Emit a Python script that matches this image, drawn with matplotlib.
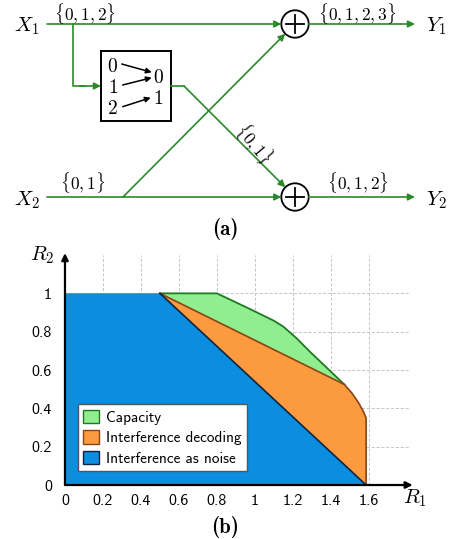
import matplotlib
matplotlib.use("Agg")
import matplotlib.pyplot as plt
from matplotlib.patches import Circle, Rectangle, Patch

plt.rcParams['mathtext.fontset'] = 'cm'

GREEN = '#2a8a2a'

# rate region boundaries (R1, R2)
noise_r1 = [0.0, 0.0, 0.5, 1.585]
noise_r2 = [0.0, 1.0, 1.0, 0.0]

decoding_r1 = [0.5, 1.47, 1.51, 1.545, 1.57, 1.585, 1.585]
decoding_r2 = [1.0, 0.525, 0.48, 0.43, 0.385, 0.35, 0.0]

capacity_r1 = [0.5, 0.8, 0.97, 1.1, 1.15, 1.22, 1.29, 1.47]
capacity_r2 = [1.0, 1.0, 0.92, 0.857, 0.826, 0.765, 0.695, 0.525]

xticks = [0, 0.2, 0.4, 0.6, 0.8, 1, 1.2, 1.4, 1.6]
yticks = [0, 0.2, 0.4, 0.6, 0.8, 1]

legend_labels = ['Capacity', 'Interference decoding', 'Interference as noise']
legend_colors = ['#90ee90', '#fb9a3f', '#0b8de0']
edge_colors = ['#1f7a1f', '#8b4513', '#10233f']

fig = plt.figure(figsize=(4.51, 5.39), dpi=100)

# ---- (a) channel diagram, drawn in pixel coordinates ----
axd = fig.add_axes([0, 0, 1, 1])
axd.set_xlim(0, 451)
axd.set_ylim(539, 0)
axd.axis('off')


def arrow(p0, p1, color=GREEN, lw=1.2, ms=10):
    axd.annotate('', xy=p1, xytext=p0,
                 arrowprops=dict(arrowstyle='-|>', color=color, lw=lw,
                                 mutation_scale=ms, shrinkA=0, shrinkB=0))


def adder(cx, cy, r=13.7):
    axd.add_patch(Circle((cx, cy), r, fill=False, lw=1.3, ec='black'))
    axd.plot([cx - 9, cx + 9], [cy, cy], color='black', lw=1.3)
    axd.plot([cx, cx], [cy - 9, cy + 9], color='black', lw=1.3)


y1, y2 = 24, 197
cx = 295
adder(cx, y1)
adder(cx, y2)

# X1 path and branch into the map box
arrow((47, y1), (281.3, y1))
axd.plot([73, 73, 85], [y1, 86, 86], color=GREEN, lw=1.2)
arrow((80, 86), (101, 86))
axd.add_patch(Rectangle((101, 51), 70, 69.5, fill=False, lw=1.4, ec='black'))

# map inside box
for s, yy in zip(['0', '1', '2'], [66.7, 87.7, 108.3]):
    axd.text(112.7, yy, f'${s}$', fontsize=14, ha='center', va='center')
for s, yy in zip(['0', '1'], [77.3, 98.3]):
    axd.text(158.3, yy, f'${s}$', fontsize=14, ha='center', va='center')
arrow((121.7, 64), (151.7, 72.3), color='black', lw=1.1, ms=8)
arrow((122.7, 85), (151.7, 77.7), color='black', lw=1.1, ms=8)
arrow((122.7, 106.7), (150.7, 97.7), color='black', lw=1.1, ms=8)

# box output crossing down to the second adder
axd.plot([171, 184], [86, 86], color=GREEN, lw=1.2)
arrow((184, 86), (285.3, 187.3))

# X2 path and cross link to the first adder
arrow((47, y2), (281.3, y2))
arrow((123, y2), (285.3, 33.7))

# outputs
arrow((308.7, y1), (415, y1))
arrow((308.7, y2), (415, y2))

axd.text(27, 26, '$X_1$', fontsize=15, ha='center', va='center')
axd.text(27, 200, '$X_2$', fontsize=15, ha='center', va='center')
axd.text(436, 26, '$Y_1$', fontsize=15, ha='center', va='center')
axd.text(436, 200, '$Y_2$', fontsize=15, ha='center', va='center')
axd.text(85, 14, r'$\{0,1,2\}$', fontsize=12.5, ha='center', va='center')
axd.text(357, 14, r'$\{0,1,2,3\}$', fontsize=12.5, ha='center', va='center')
axd.text(83, 183, r'$\{0,1\}$', fontsize=12.5, ha='center', va='center')
axd.text(358, 183, r'$\{0,1,2\}$', fontsize=12.5, ha='center', va='center')
axd.text(254, 143, r'$\{0,1\}$', fontsize=12.5, ha='center', va='center',
         rotation=-50, rotation_mode='anchor')
axd.text(225, 229, '(a)', fontsize=15, family='cmb10', ha='center', va='center')
axd.text(225, 527, '(b)', fontsize=15, family='cmb10', ha='center', va='center')

# ---- (b) rate regions ----
ax = fig.add_axes([0.123, 0.0895, 0.8004, 0.448])
ax.patch.set_alpha(0)
ax.set_xlim(-0.05, 1.85)
ax.set_ylim(-0.03, 1.23)
for sp in ax.spines.values():
    sp.set_visible(False)

for x in xticks[1:]:
    ax.plot([x, x], [0, 1.2], color='#c4c4c4', lw=0.7, ls=(0, (3, 2)), zorder=0)
for y in yticks[1:]:
    ax.plot([0, 1.81], [y, y], color='#c4c4c4', lw=0.7, ls=(0, (3, 2)), zorder=0)

cap_x = [0, 0] + capacity_r1 + decoding_r1[2:]
cap_y = [0, 1] + capacity_r2 + decoding_r2[2:]
ax.fill(cap_x, cap_y, color=legend_colors[0], lw=0, zorder=1)
ax.fill([0, 0] + decoding_r1, [0, 1] + decoding_r2, color=legend_colors[1], lw=0, zorder=2)
ax.fill(noise_r1, noise_r2, color=legend_colors[2], lw=0, zorder=3)

ax.plot(capacity_r1, capacity_r2, color=edge_colors[0], lw=1.3, zorder=4)
ax.plot(decoding_r1, decoding_r2, color=edge_colors[1], lw=1.2, zorder=4)
ax.plot(noise_r1[2:], noise_r2[2:], color=edge_colors[2], lw=1.2, zorder=4)

ax.annotate('', xy=(1.83, 0), xytext=(0, 0),
            arrowprops=dict(arrowstyle='-|>', color='black', lw=1.6,
                            mutation_scale=10, shrinkA=0, shrinkB=0), zorder=5)
ax.annotate('', xy=(0, 1.21), xytext=(0, 0),
            arrowprops=dict(arrowstyle='-|>', color='black', lw=1.6,
                            mutation_scale=10, shrinkA=0, shrinkB=0), zorder=5)

ax.set_xticks(xticks)
ax.set_xticklabels([f'{t:g}' for t in xticks], family='cmss10', fontsize=11.5)
ax.set_yticks(yticks)
ax.set_yticklabels([f'{t:g}' for t in yticks], family='cmss10', fontsize=11.5)
ax.tick_params(length=0, pad=2.5)

ax.text(1.84, -0.07, '$R_1$', fontsize=15, ha='center', va='center')
ax.text(-0.12, 1.2, '$R_2$', fontsize=15, ha='center', va='center')

handles = [Patch(facecolor=c, edgecolor=e, lw=1.0)
           for c, e in zip(legend_colors, edge_colors)]
ax.legend(handles, legend_labels, loc='lower left', bbox_to_anchor=(0.068, 0.073),
          bbox_transform=ax.transData, prop={'family': 'cmss10', 'size': 11},
          fancybox=False, framealpha=1, edgecolor='#555555', borderaxespad=0,
          handlelength=1.0, handleheight=1.0, handletextpad=0.5,
          labelspacing=0.35, borderpad=0.35).set_zorder(6)

fig.savefig('out.png', dpi=100)
